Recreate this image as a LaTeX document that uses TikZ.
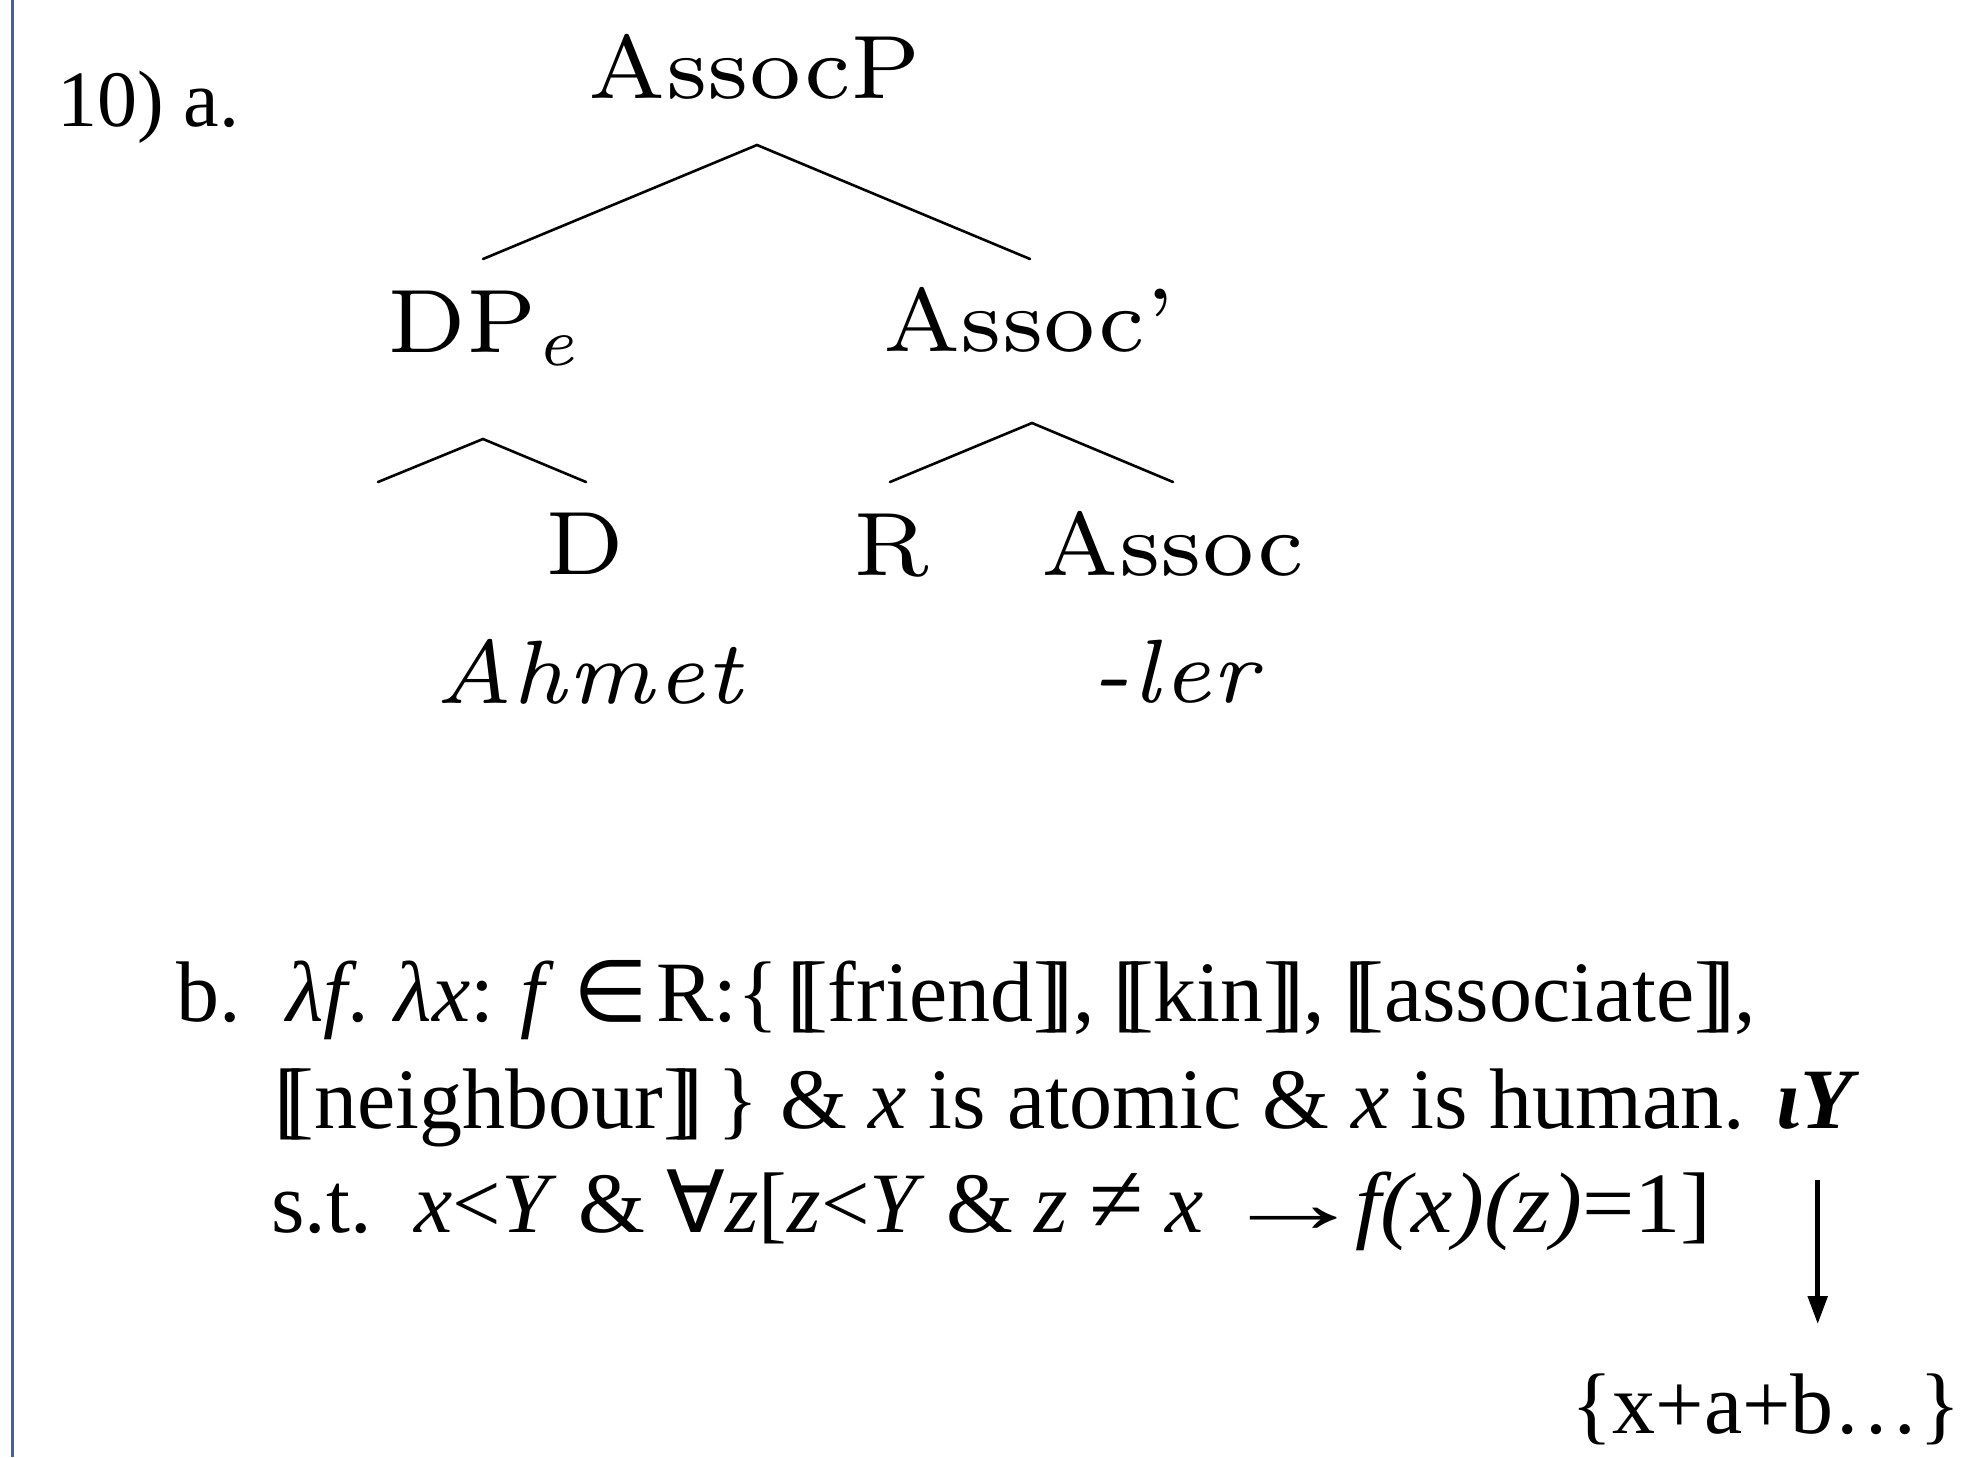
\documentclass[tikz,border=0pt]{standalone}
\usepackage{fontspec}
\newfontfamily\tms{Liberation Serif}
\newfontfamily\symf{DejaVu Sans}
% Latin Modern cuts for the tree
\newfontfamily\lmseven{lmroman7-regular.otf}
\newfontfamily\lmsevenit[LetterSpace=2]{lmroman7-italic.otf}
\usetikzlibrary{arrows.meta,calc}
\definecolor{frameblue}{RGB}{62,100,162}
% tree category labels, set a little wide
\newcommand\cat[1]{\scalebox{1.02}[1]{#1}}
% lowered italic subscript
\newcommand\subit[1]{\raisebox{-0.15em}{\fontsize{68pt}{70pt}\selectfont\lmsevenit #1}}
% double (semantic-value) brackets
\newcommand\ldb{[\kern-0.2em[}
\newcommand\rdb{]\kern-0.2em]}
\begin{document}
\begin{tikzpicture}[x=1pt,y=-1pt,
  treelabel/.style={inner sep=0pt, anchor=base, font=\lmseven\fontsize{90pt}{100pt}\selectfont},
  leaflabel/.style={treelabel, font=\lmsevenit\fontsize{90pt}{100pt}\selectfont},
  branch/.style={line width=2.6pt, line cap=round, line join=miter},
  semline/.style={inner sep=0pt, anchor=base west, font=\tms\fontsize{86pt}{100pt}\selectfont},
  arr/.style={line width=5pt, -{Triangle[width=19pt,length=28pt]}}]
\useasboundingbox (0,0) rectangle (1971,1457);
\fill[white] (0,0) rectangle (1971,1457);
\draw[frameblue, line width=3pt] (12,0) -- (12,1457);

% example number
\node[semline, font=\tms\fontsize{80pt}{90pt}\selectfont] (ex) at (57,126) {10) a.};

% tree
\node[treelabel] (AssocP) at (755,98) {\cat{AssocP}};
\node[treelabel] (DPe) at (481,352) {\cat{DP\subit{e}}};
\node[treelabel] (AssocBar) at (1029,351) {\cat{Assoc’}};
\node[treelabel] (D) at (585,574) {\cat{D}};
\node[treelabel] (R) at (892,575) {\cat{R}};
\node[treelabel] (Assoc) at (1173,575) {\cat{Assoc}};
\node[leaflabel] (Ahmet) at (589,703) {Ahmet};
\node[leaflabel] (ler) at (1175,702) {-ler};
\coordinate (DPspec) at (378,482);

\draw[branch] ($(DPe.base)+(2,-93)$) -- ($(AssocP.base)+(2,47)$) -- ($(AssocBar.base)+(1,-92)$);
\draw[branch] (DPspec) -- ($(DPe.base)+(2,87)$) -- ($(D.base)+(1,-92)$);
\draw[branch] ($(R.base)+(-2,-93)$) -- ($(AssocBar.base)+(3,72)$) -- ($(Assoc.base)+(0,-93)$);

% denotation
\node[semline] (lb) at (176,1021) {b.};
\node[semline] (l1) at (286,1021) {\spaceskip=0.22em\textit{λf}. \textit{λx}: \textit{f} {\symf ∈}\kern0.1em R:\{\hspace{0.1em}\ldb friend\rdb, \ldb kin\rdb, \ldb associate\rdb,};
\node[semline] (l2) at (274,1128) {\ldb neighbour\rdb\,\} \& \textit{x} is atomic \& \textit{x} is human.};
\node[semline] (iotaY) at (1776,1128) {\textbf{\textit{ιY}}};
\node[semline] (l3) at (271,1232) {s.t.\ \ \textit{x}<\textit{Y} \& {\symf ∀}\textit{z}[\textit{z}<\textit{Y} \& \textit{z} \scalebox{1.15}{≠} \textit{x}\ \kern-0.05em\scalebox{1.7}[1]{→}\kern-0.14em\scalebox{1.08}[1]{\textit{f(x)(z)}=1]}};
\node[semline] (set) at (1571,1433) {\{x+a+b…\}};

\coordinate (arrtop) at ($(iotaY.south)+(0,51)$);
\coordinate (arrend) at ($(set.north)+(0,-49)$);
\draw[arr] (arrtop) -- (arrtop |- arrend);
\end{tikzpicture}
\end{document}
